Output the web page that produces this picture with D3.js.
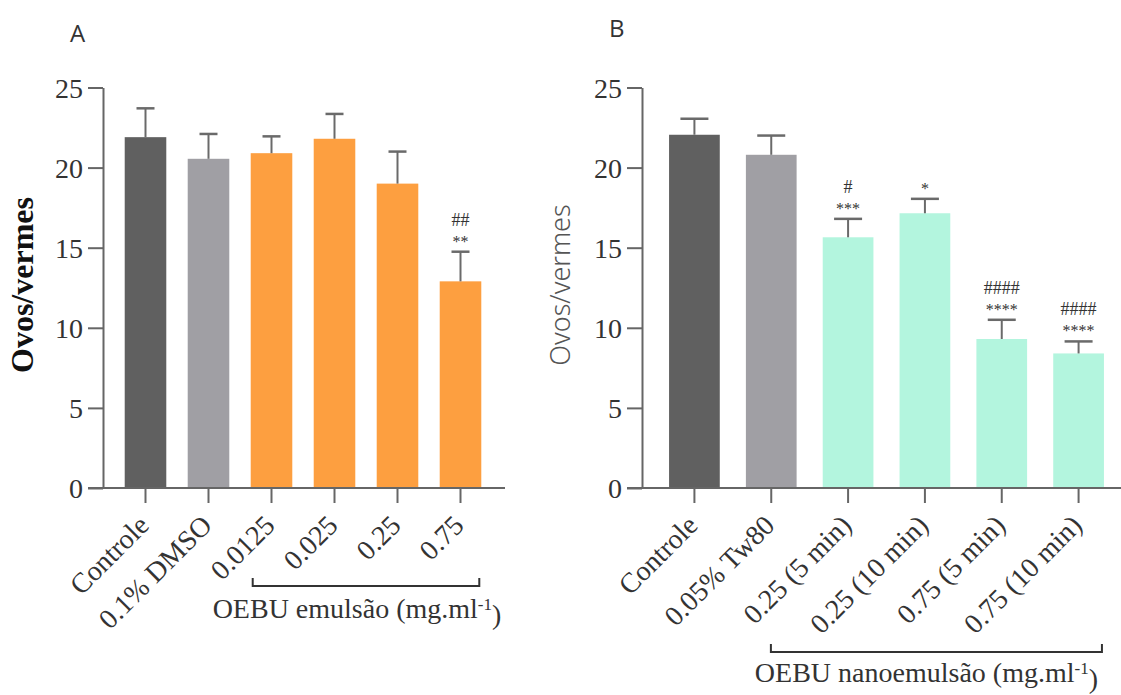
<!DOCTYPE html>
<html lang="pt">
<head>
<meta charset="utf-8">
<title>Ovos/vermes</title>
<script src="https://cdn.jsdelivr.net/npm/d3@7"></script>
<style>
  html, body { margin: 0; padding: 0; background: #fff; }
  svg text { font-family: "Liberation Serif", "Times New Roman", serif; fill: #333; }
  .domain, .tick line { stroke: #666; stroke-width: 2; }
  .panel-letter { font-family: "Open Sans", "DejaVu Sans", sans-serif !important; }
</style>
</head>
<body>
<svg id="chart" width="1121" height="695"></svg>
<script>
// panel A data
var catsA = ["Controle", "0.1% DMSO", "0.0125", "0.025", "0.25", "0.75"];
var meanA = [21.9, 20.55, 20.9, 21.8, 19.0, 12.9];
var errA  = [1.8, 1.55, 1.05, 1.55, 2.0, 1.85];
var starsA = ["", "", "", "", "", "**"];
var hashA  = ["", "", "", "", "", "##"];

// panel B data
var catsB = ["Controle", "0.05% Tw80", "0.25 (5 min)", "0.25 (10 min)", "0.75 (5 min)", "0.75 (10 min)"];
var meanB = [22.05, 20.8, 15.65, 17.15, 9.3, 8.4];
var errB  = [1.0, 1.2, 1.15, 0.9, 1.2, 0.75];
var starsB = ["", "", "***", "*", "****", "****"];
var hashB  = ["", "", "#", "", "####", "####"];

var yTicks = [0, 5, 10, 15, 20, 25];
var colA = ["#606060", "#a09fa4", "#fd9f40", "#fd9f40", "#fd9f40", "#fd9f40"];
var colB = ["#606060", "#a09fa4", "#b3f5de", "#b3f5de", "#b3f5de", "#b3f5de"];

var svg = d3.select("#chart");

function panel(o) {
  var g = svg.append("g");
  var y = d3.scaleLinear().domain([0, 25]).range([488, 87.5]);
  var x = d3.scaleBand().domain(o.cats).range(o.xr).paddingInner(0.34).paddingOuter(0.17);
  var bw = x.bandwidth();

  // bars
  g.selectAll("rect.bar").data(o.cats).enter().append("rect")
    .attr("class", "bar")
    .attr("x", function(d) { return x(d); })
    .attr("y", function(d, i) { return y(o.mean[i]); })
    .attr("width", bw)
    .attr("height", function(d, i) { return y(0) - y(o.mean[i]); })
    .attr("fill", function(d, i) { return o.col[i]; });

  // error bars (upper only)
  var eb = g.selectAll("g.err").data(o.cats).enter().append("g").attr("class", "err");
  eb.append("line")
    .attr("x1", function(d) { return x(d) + bw / 2; })
    .attr("x2", function(d) { return x(d) + bw / 2; })
    .attr("y1", function(d, i) { return y(o.mean[i]); })
    .attr("y2", function(d, i) { return y(o.mean[i] + o.err[i]); })
    .attr("stroke", "#6a6a6a").attr("stroke-width", 2);
  eb.append("line")
    .attr("x1", function(d) { return x(d) + bw / 2 - o.cap / 2; })
    .attr("x2", function(d) { return x(d) + bw / 2 + o.cap / 2; })
    .attr("y1", function(d, i) { return y(o.mean[i] + o.err[i]); })
    .attr("y2", function(d, i) { return y(o.mean[i] + o.err[i]); })
    .attr("stroke", "#6a6a6a").attr("stroke-width", 2.5);

  // significance marks
  g.selectAll("text.stars").data(o.cats).enter().append("text")
    .attr("class", "stars")
    .attr("x", function(d) { return x(d) + bw / 2; })
    .attr("y", function(d, i) { return y(o.mean[i] + o.err[i]) - 5; })
    .attr("text-anchor", "middle")
    .style("font-size", "16px")
    .text(function(d, i) { return o.stars[i]; });
  g.selectAll("text.hash").data(o.cats).enter().append("text")
    .attr("class", "hash")
    .attr("x", function(d) { return x(d) + bw / 2; })
    .attr("y", function(d, i) { return y(o.mean[i] + o.err[i]) - 26; })
    .attr("text-anchor", "middle")
    .style("font-size", "18px")
    .text(function(d, i) { return o.hash[i]; });

  // y axis
  var ya = g.append("g").attr("transform", "translate(" + o.axisX + ",0)")
    .call(d3.axisLeft(y).tickValues(yTicks).tickSize(15).tickSizeOuter(0).tickPadding(5));
  ya.selectAll("text").style("font-size", "28px").attr("dy", "0.34em");

  // x axis line + ticks
  g.append("line")
    .attr("x1", o.axisX - 15).attr("x2", o.xEnd)
    .attr("y1", y(0)).attr("y2", y(0))
    .attr("stroke", "#666").attr("stroke-width", 2);
  var xa = g.append("g").attr("transform", "translate(0," + y(0) + ")")
    .call(d3.axisBottom(x).tickSize(15).tickSizeOuter(0));
  xa.select(".domain").remove();
  xa.selectAll("text")
    .style("font-size", "28px")
    .attr("text-anchor", "end")
    .attr("x", 0).attr("y", 0).attr("dy", 0)
    .attr("transform", "translate(5,39) rotate(-45)");

  // bracket under the treated groups
  var bx1 = x(o.cats[o.brFrom]) + o.brOff, bx2 = x(o.cats[5]) + bw - 2;
  g.append("path")
    .attr("d", "M" + bx1 + "," + (o.brY - 8) + "V" + o.brY + "H" + bx2 + "V" + (o.brY - 8))
    .attr("fill", "none").attr("stroke", "#333").attr("stroke-width", 2);
  var lab = g.append("text")
    .attr("x", (bx1 + bx2) / 2 + o.labShift).attr("y", o.labY)
    .attr("text-anchor", "middle")
    .style("font-size", "28px");
  lab.append("tspan").text(o.label + " (mg.ml");
  lab.append("tspan").attr("dy", "-0.5em").style("font-size", "17px").text("-1");
  lab.append("tspan").attr("dy", "0.5em").text(")");

  // y label
  var yl = svg.append("text")
    .attr("transform", "translate(" + o.ylX + ",285) rotate(-90)")
    .attr("text-anchor", "middle")
    .text("Ovos/vermes");
  o.ylStyle(yl);

  svg.append("text").attr("class", "panel-letter")
    .attr("x", o.letter[0]).attr("y", o.letter[1])
    .style("font-size", "24px").style("fill", "#333")
    .text(o.name);
}

panel({
  name: "A", cats: catsA, mean: meanA, err: errA, stars: starsA, hash: hashA, col: colA,
  xr: [114, 492], axisX: 103, xEnd: 505, cap: 18,
  brFrom: 2, brOff: 2, brY: 586, labY: 618, labShift: -9, label: "OEBU emulsão",
  ylX: 33, letter: [70, 42],
  ylStyle: function(t) { t.style("font-size", "32px").style("font-weight", "bold").style("fill", "#111"); }
});

panel({
  name: "B", cats: catsB, mean: meanB, err: errB, stars: starsB, hash: hashB, col: colB,
  xr: [656, 1117], axisX: 642, xEnd: 1121, cap: 28,
  brFrom: 1, brOff: 25, brY: 652, labY: 682, labShift: -10, label: "OEBU nanoemulsão",
  ylX: 570, letter: [609, 37],
  ylStyle: function(t) {
    t.style("font-family", "'Noto Sans', 'Open Sans', sans-serif").style("font-size", "27px")
      .style("font-weight", "300").style("fill", "#555");
  }
});
</script>
</body>
</html>
